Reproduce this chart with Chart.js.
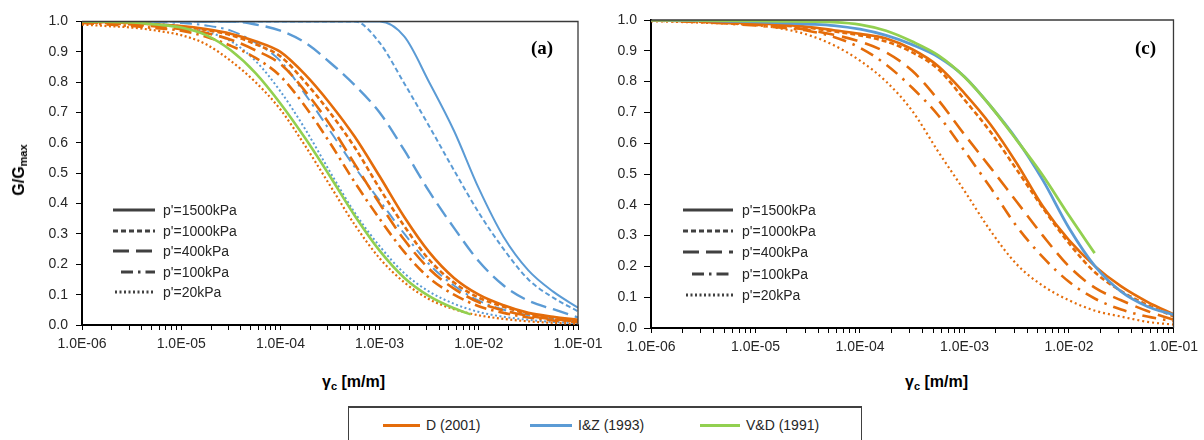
<!DOCTYPE html>
<html>
<head>
<meta charset="utf-8">
<script src="https://cdn.jsdelivr.net/npm/chart.js@4.4.1/dist/chart.umd.min.js"></script>
<style>
  html, body { margin: 0; padding: 0; background: #fff; }
  #wrap { position: relative; width: 1204px; height: 440px; overflow: hidden; font-family: "Liberation Sans", Arial, sans-serif; color: #262626; }
  canvas { position: absolute; top: 0; }
  #cvA { left: 0; }
  #cvC { left: 600px; }
  .tag { position: absolute; font: bold 19px "Liberation Serif", "Times New Roman", serif; color: #000; line-height: 20px; }
  .xtitle { position: absolute; font: bold 16px "Liberation Sans", Arial, sans-serif; color: #000; line-height: 18px; white-space: nowrap; }
  .xtitle sub { font-size: 11px; vertical-align: -3px; }
  .ytitle { position: absolute; font: bold 16px "Liberation Sans", Arial, sans-serif; color: #000; white-space: nowrap; transform: translate(-50%, -50%) rotate(-90deg); line-height: 18px; }
  .ytitle sub { font-size: 11px; vertical-align: -3px; }
  .plegend { position: absolute; font-size: 14px; color: #262626; }
  .plegend .row { position: relative; display: flex; align-items: center; }
  .plegend svg { display: block; }
  .plegend span { white-space: nowrap; }
  #legend { position: absolute; left: 348px; top: 406px; width: 512px; height: 44px; border: 1px solid #404040; border-top-width: 2px; }
  #legend .item { position: absolute; top: 9px; display: flex; align-items: center; font-size: 14px; color: #262626; white-space: nowrap; }
  #legend .swatch { height: 3px; margin-right: 6px; }
</style>
</head>
<body>
<div id="wrap">
  <canvas id="cvA" width="620" height="372"></canvas>
  <canvas id="cvC" width="604" height="372"></canvas>
  <div class="tag" style="left:531px; top:38px;">(a)</div>
  <div class="tag" style="left:1135px; top:38px;">(c)</div>
  <div class="ytitle" style="left:21px; top:170px;">G/G<sub>max</sub></div>
  <div class="xtitle" style="left:322px; top:373px;">γ<sub>c</sub> [m/m]</div>
  <div class="xtitle" style="left:905px; top:373px;">γ<sub>c</sub> [m/m]</div>
  <div class="plegend" id="legA" style="left:113px; top:200px;"></div>
  <div class="plegend" id="legC" style="left:683px; top:199px;"></div>
  <div id="legend"></div>
</div>
<script>
// strain axis
const xMajor      = [1e-6, 1e-5, 1e-4, 1e-3, 1e-2, 1e-1]
const xTickLabels = ["1.0E-06", "1.0E-05", "1.0E-04", "1.0E-03", "1.0E-02", "1.0E-01"]
const yTicks      = [0, 0.1, 0.2, 0.3, 0.4, 0.5, 0.6, 0.7, 0.8, 0.9, 1.0]
const yTickLabels = ["0.0", "0.1", "0.2", "0.3", "0.4", "0.5", "0.6", "0.7", "0.8", "0.9", "1.0"]

const seriesNames    = ["D (2001)", "I&Z (1993)", "V&D (1991)"]
const pressureLabels = ["p'=1500kPa", "p'=1000kPa", "p'=400kPa", "p'=100kPa", "p'=20kPa"]

// common strain grid (quarter decades)
const gamma = [1e-6, 1.78e-6, 3.16e-6, 5.62e-6, 1e-5, 1.78e-5, 3.16e-5, 5.62e-5,
               1e-4, 1.78e-4, 3.16e-4, 5.62e-4, 1e-3, 1.78e-3, 3.16e-3, 5.62e-3,
               1e-2, 1.78e-2, 3.16e-2, 5.62e-2, 1e-1]

// panel (a) - D (2001)
const aD1500 = [1.0, 0.998, 0.995, 0.99, 0.985, 0.975, 0.96, 0.935, 0.90, 0.825, 0.73, 0.62, 0.49, 0.355, 0.24, 0.155, 0.10, 0.065, 0.04, 0.027, 0.017]
const aD1000 = [1.0, 0.998, 0.995, 0.99, 0.983, 0.972, 0.955, 0.925, 0.885, 0.80, 0.70, 0.585, 0.45, 0.325, 0.215, 0.14, 0.09, 0.06, 0.037, 0.024, 0.015]
const aD400  = [0.998, 0.995, 0.99, 0.984, 0.975, 0.962, 0.94, 0.905, 0.86, 0.77, 0.66, 0.53, 0.40, 0.28, 0.185, 0.12, 0.075, 0.048, 0.03, 0.019, 0.012]
const aD100  = [0.995, 0.99, 0.985, 0.978, 0.97, 0.95, 0.92, 0.88, 0.82, 0.72, 0.60, 0.47, 0.35, 0.24, 0.155, 0.10, 0.062, 0.04, 0.025, 0.015, 0.009]
const aD20   = [0.99, 0.985, 0.98, 0.97, 0.955, 0.925, 0.87, 0.80, 0.71, 0.59, 0.46, 0.33, 0.22, 0.14, 0.085, 0.052, 0.032, 0.02, 0.012, 0.007, 0.004]
// panel (a) - I&Z (1993)
const aIZ1500 = [1, 1, 1, 1, 1, 1, 1, 1, 1, 1, 1, 1, 1.0, 0.95, 0.80, 0.64, 0.45, 0.29, 0.18, 0.11, 0.057]
const aIZ1000 = [1, 1, 1, 1, 1, 1, 1, 1, 1, 1, 1, 1, 0.93, 0.795, 0.655, 0.51, 0.37, 0.25, 0.15, 0.09, 0.045]
const aIZ400  = [1, 1, 1, 1, 1, 1, 1, 0.99, 0.97, 0.93, 0.865, 0.79, 0.70, 0.575, 0.44, 0.32, 0.21, 0.13, 0.08, 0.052, 0.025]
const aIZ100  = [1, 1, 1, 0.998, 0.995, 0.987, 0.97, 0.93, 0.87, 0.76, 0.64, 0.52, 0.41, 0.30, 0.20, 0.13, 0.08, 0.05, 0.032, 0.02, 0.012]
const aIZ20   = [1, 0.999, 0.997, 0.992, 0.985, 0.967, 0.935, 0.87, 0.77, 0.645, 0.505, 0.37, 0.26, 0.17, 0.11, 0.07, 0.043, 0.027, 0.017, 0.01, 0.006]
// panel (a) - V&D (1991)
const aVDgamma = [1e-6, 1.78e-6, 3.16e-6, 5.62e-6, 1e-5, 1.78e-5, 3.16e-5, 5.62e-5,
                  1e-4, 1.78e-4, 3.16e-4, 5.62e-4, 1e-3, 1.78e-3, 3.16e-3, 5.62e-3, 8.3e-3]
const aVD = [1.0, 0.999, 0.997, 0.99, 0.98, 0.955, 0.905, 0.83, 0.73, 0.615, 0.49, 0.36, 0.245, 0.155, 0.095, 0.055, 0.035]

// panel (c) - D (2001)
const cD1500 = [1.0, 0.998, 0.996, 0.993, 0.99, 0.985, 0.978, 0.967, 0.955, 0.94, 0.905, 0.85, 0.762, 0.66, 0.535, 0.395, 0.285, 0.20, 0.135, 0.085, 0.045]
const cD1000 = [1.0, 0.998, 0.995, 0.992, 0.988, 0.982, 0.975, 0.963, 0.95, 0.93, 0.895, 0.84, 0.741, 0.636, 0.514, 0.39, 0.275, 0.18, 0.12, 0.075, 0.038]
const cD400  = [1.0, 0.997, 0.994, 0.99, 0.985, 0.978, 0.968, 0.952, 0.93, 0.895, 0.835, 0.74, 0.628, 0.52, 0.41, 0.30, 0.20, 0.13, 0.09, 0.055, 0.027]
const cD100  = [0.998, 0.996, 0.993, 0.988, 0.982, 0.975, 0.965, 0.945, 0.91, 0.855, 0.78, 0.69, 0.575, 0.455, 0.33, 0.23, 0.15, 0.095, 0.06, 0.037, 0.022]
const cD20   = [0.996, 0.994, 0.991, 0.988, 0.983, 0.972, 0.952, 0.918, 0.868, 0.80, 0.705, 0.572, 0.445, 0.315, 0.207, 0.137, 0.09, 0.056, 0.037, 0.02, 0.011]
// panel (c) - I&Z (1993)
const cIZ = [1.0, 0.999, 0.998, 0.996, 0.994, 0.991, 0.987, 0.982, 0.97, 0.95, 0.92, 0.88, 0.816, 0.72, 0.612, 0.48, 0.325, 0.20, 0.118, 0.07, 0.043]
// panel (c) - V&D (1991)
const cVDgamma = [1e-6, 1.78e-6, 3.16e-6, 5.62e-6, 1e-5, 1.78e-5, 3.16e-5, 5.62e-5,
                  1e-4, 1.78e-4, 3.16e-4, 5.62e-4, 1e-3, 1.78e-3, 3.16e-3, 5.62e-3, 1e-2, 1.76e-2]
const cVD = [1.0, 1.0, 0.999, 0.998, 0.997, 0.996, 0.995, 0.993, 0.985, 0.965, 0.93, 0.885, 0.815, 0.72, 0.61, 0.495, 0.365, 0.243]

const ORANGE = "#E46C0A"
const BLUE   = "#5B9BD5"
const GREEN  = "#92D050"
const GREY   = "#404040"
const FONT   = "'Liberation Sans', Arial, sans-serif"

// line style per pressure level: solid, short dash, long dash, dash-dot, dotted
const dashes = [[], [5, 3], [16, 7], [12, 5, 2.5, 5], [2, 2.5]]

const pts = (xs, ys) => ys.map((y, i) => ({ x: xs[i], y }))

function curve(xs, ys, color, dash, width) {
  return {
    data: pts(xs, ys),
    borderColor: color,
    borderDash: dash,
    borderWidth: width,
    borderCapStyle: "butt",
    pointRadius: 0,
    fill: false,
    cubicInterpolationMode: "monotone"
  }
}

// major + minor tick positions on the log axis
const xTicks = []
xMajor.forEach((m, i) => {
  xTicks.push(m)
  if (i < xMajor.length - 1) for (let k = 2; k <= 9; k++) xTicks.push(m * k)
})

function xLabel(v) {
  const i = xMajor.findIndex(m => Math.abs(Math.log10(m) - Math.log10(v)) < 1e-6)
  return i >= 0 ? xTickLabels[i] : ""
}

const frame = {
  id: "frame",
  afterDatasetsDraw(chart) {
    const { ctx, chartArea: a } = chart
    ctx.save()
    ctx.strokeStyle = "#3a3a3a"
    ctx.lineWidth = 1.3
    ctx.beginPath()
    ctx.moveTo(a.left, a.top)
    ctx.lineTo(a.right, a.top)
    ctx.lineTo(a.right, a.bottom)
    ctx.stroke()
    ctx.restore()
  }
}

function makeChart(id, datasets, box) {
  return new Chart(document.getElementById(id), {
    type: "line",
    data: { datasets },
    options: {
      responsive: false,
      animation: false,
      events: [],
      layout: { padding: { left: 0, top: box.top, right: box.right, bottom: 0 } },
      plugins: { legend: { display: false }, tooltip: { enabled: false } },
      scales: {
        x: {
          type: "logarithmic",
          min: 1e-6,
          max: 1e-1,
          afterBuildTicks: s => { s.ticks = xTicks.map(v => ({ value: v })) },
          afterFit: s => { s.height = box.xh },
          ticks: {
            autoSkip: false, maxRotation: 0, minRotation: 0, padding: 6,
            color: "#262626", font: { family: FONT, size: 14 },
            callback: v => xLabel(v)
          },
          grid: { drawOnChartArea: false, tickLength: 5, color: "#000" },
          border: { color: "#000", width: 2 }
        },
        y: {
          min: 0,
          max: 1,
          afterBuildTicks: s => { s.ticks = yTicks.map(v => ({ value: v })) },
          afterFit: s => { s.width = box.yw },
          ticks: {
            padding: box.ypad, color: "#262626", font: { family: FONT, size: 14 },
            callback: (v, i) => yTickLabels[i]
          },
          grid: { drawOnChartArea: false, tickLength: box.ytl, color: "#000" },
          border: { color: "#000", width: 2 }
        }
      }
    },
    plugins: [frame]
  })
}

// dataset 0 is drawn on top
makeChart("cvA", [
  curve(aVDgamma, aVD, GREEN, [], 2.6),
  curve(gamma, aD1500, ORANGE, dashes[0], 2.6),
  curve(gamma, aD1000, ORANGE, dashes[1], 2.6),
  curve(gamma, aD400,  ORANGE, dashes[2], 2.6),
  curve(gamma, aD100,  ORANGE, dashes[3], 2.6),
  curve(gamma, aD20,   ORANGE, dashes[4], 2.2),
  curve(gamma, aIZ1500, BLUE, dashes[0], 2),
  curve(gamma, aIZ1000, BLUE, dashes[1], 2),
  curve(gamma, aIZ400,  BLUE, dashes[2], 2.4),
  curve(gamma, aIZ100,  BLUE, dashes[3], 2),
  curve(gamma, aIZ20,   BLUE, dashes[4], 2)
], { top: 21.5, right: 42, xh: 47, yw: 82, ypad: 8, ytl: 6 })

makeChart("cvC", [
  curve(cVDgamma, cVD, GREEN, [], 2.8),
  curve(gamma, cIZ, BLUE, [], 2.8),
  curve(gamma, cD1500, ORANGE, dashes[0], 2.6),
  curve(gamma, cD1000, ORANGE, dashes[1], 2.6),
  curve(gamma, cD400,  ORANGE, [16, 8], 2.6),
  curve(gamma, cD100,  ORANGE, [14, 7, 2.5, 7], 2.6),
  curve(gamma, cD20,   ORANGE, [2, 3], 2.2)
], { top: 20, right: 28, xh: 44, yw: 51, ypad: 7, ytl: 7 })

// pressure-level legends inside the plots
function buildPressureLegend(id, width, rowH, starts) {
  const el = document.getElementById(id)
  pressureLabels.forEach((label, i) => {
    const row = document.createElement("div")
    row.className = "row"
    row.style.height = rowH + "px"
    const x1 = starts[i]
    const da = dashes[i].length ? `stroke-dasharray="${dashes[i].join(" ")}"` : ""
    row.innerHTML =
      `<svg width="${width}" height="6"><line x1="${x1}" y1="3" x2="${width}" y2="3" stroke="${GREY}" stroke-width="3" ${da}/></svg>` +
      `<span style="margin-left:${id === "legA" ? 8 : 9}px">${label}</span>`
    el.appendChild(row)
  })
}
buildPressureLegend("legA", 42, 20.5, [0, 0, 0, 8, 2])
buildPressureLegend("legC", 50, 21.3, [0, 0, 0, 9, 3])

// shared legend below the panels
const legend = document.getElementById("legend")
const legendColors = [ORANGE, BLUE, GREEN]
const legendX = [34, 181, 351]
const swatchW = [37, 42, 40]
seriesNames.forEach((name, i) => {
  const item = document.createElement("div")
  item.className = "item"
  item.style.left = legendX[i] + "px"
  item.innerHTML = `<div class="swatch" style="width:${swatchW[i]}px;background:${legendColors[i]}"></div><span></span>`
  item.querySelector("span").textContent = name
  legend.appendChild(item)
})
</script>
</body>
</html>
